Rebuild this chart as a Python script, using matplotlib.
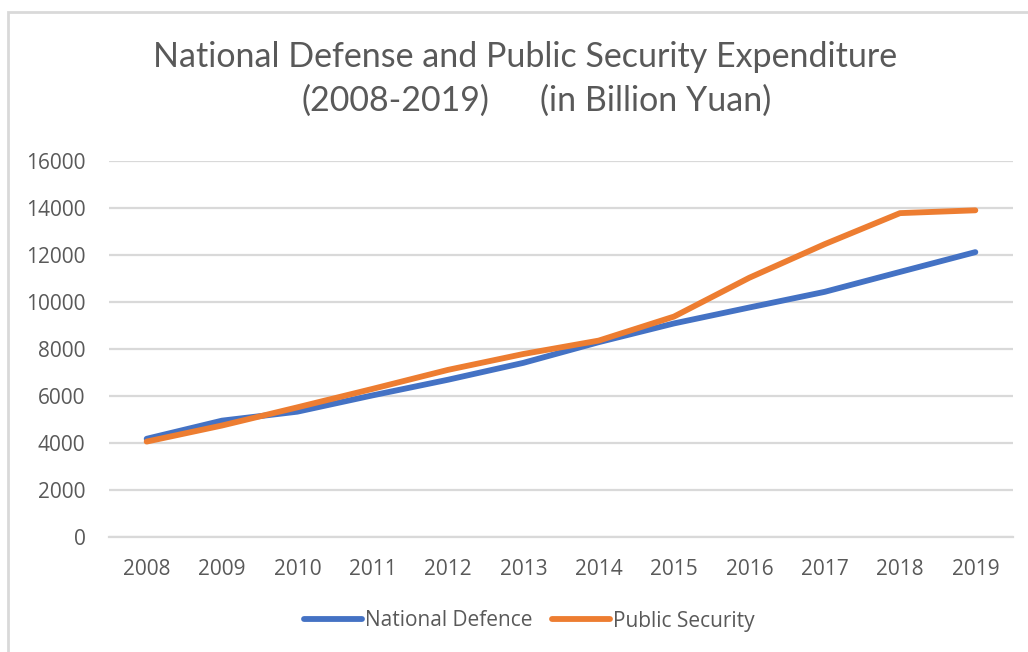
import matplotlib.pyplot as plt
from matplotlib.patches import Rectangle

# Data (billion yuan)
years = ['2008', '2009', '2010', '2011', '2012', '2013',
         '2014', '2015', '2016', '2017', '2018', '2019']
national_defence = [4179, 4951, 5333, 6028, 6692, 7410,
                    8290, 9088, 9766, 10432, 11280, 12122]
public_security = [4060, 4744, 5517, 6304, 7112, 7787,
                   8357, 9380, 11032, 12461, 13782, 13902]

text_color = '#595959'
grid_color = '#d9d9d9'

fig = plt.figure(figsize=(10.28, 6.52), dpi=100)
ax = fig.add_axes([109 / 1028, 1 - 537 / 652, (1013 - 109) / 1028, (537 - 161) / 652])

x = range(len(years))
ax.plot(x, national_defence, color='#4472C4', lw=4.2, label='National Defence',
        solid_capstyle='round', solid_joinstyle='round')
ax.plot(x, public_security, color='#ED7D31', lw=4.2, label='Public Security',
        solid_capstyle='round', solid_joinstyle='round')

ax.set_xlim(-0.5, len(years) - 0.5)
ax.set_ylim(0, 16000)
ax.set_yticks(range(0, 16001, 2000))
ax.set_xticks(list(x))
ax.set_xticklabels(years)

ax.grid(axis='y', color=grid_color, lw=1.6)
ax.set_axisbelow(True)
for s in ['top', 'right', 'left']:
    ax.spines[s].set_visible(False)
ax.spines['bottom'].set_color(grid_color)
ax.spines['bottom'].set_linewidth(1.6)

ax.tick_params(axis='y', length=0, pad=17, labelsize=15, labelcolor=text_color)
ax.tick_params(axis='x', length=0, pad=16, labelsize=15, labelcolor=text_color)
for lab in ax.get_xticklabels() + ax.get_yticklabels():
    lab.set_fontfamily('Open Sans')

fig.text(0.511, 1 - 57 / 652, 'National Defense and Public Security Expenditure',
         ha='center', va='center', fontsize=24.5, color=text_color, family='Lato')
fig.text(395 / 1028, 1 - 101 / 652, '(2008-2019)',
         ha='center', va='center', fontsize=24.5, color=text_color, family='Lato')
fig.text(656 / 1028, 1 - 101 / 652, '(in Billion Yuan)',
         ha='center', va='center', fontsize=24.5, color=text_color, family='Lato')

fig.legend(loc='center', bbox_to_anchor=(0.515, 1 - 621 / 652), ncol=2, frameon=False,
           handlelength=2.8, handletextpad=0.15, columnspacing=0.9,
           prop={'family': 'Open Sans', 'size': 15}, labelcolor=text_color)

# chart border (left/top visible, the rest runs off the image)
fig.add_artist(Rectangle((8 / 1028, -0.1), 1.2, 1 - 12 / 652 + 0.1,
                         transform=fig.transFigure, fill=False,
                         edgecolor='#d9d9d9', lw=2))

plt.savefig('out.png', dpi=100)
